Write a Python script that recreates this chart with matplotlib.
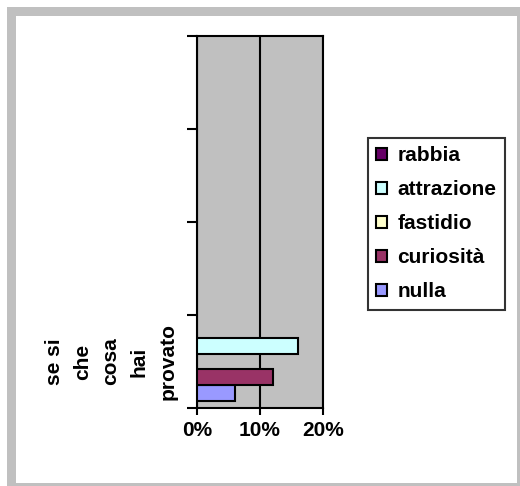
import matplotlib.pyplot as plt
from matplotlib.patches import Rectangle, Patch
import numpy as np

plt.rcParams['font.family'] = ['Liberation Sans', 'DejaVu Sans']

# categories (bottom to top), only the first one has a label
categories = ["se si\nche\ncosa\nhai\nprovato", "", "", ""]

# series, in drawing order (bottom bar first)
series_names = ["nulla", "curiosità", "fastidio", "attrazione", "rabbia"]
series_values = [
    [6, 0, 0, 0],    # nulla
    [12, 0, 0, 0],   # curiosità
    [0, 0, 0, 0],    # fastidio
    [16, 0, 0, 0],   # attrazione
    [0, 0, 0, 0],    # rabbia
]
series_colors = ["#9999FF", "#993366", "#FFFFCC", "#CCFFFF", "#660066"]

x_ticks = [0, 10, 20]
x_tick_labels = ["0%", "10%", "20%"]

W, H = 520, 486
FS = 15
fig = plt.figure(figsize=(W / 100, H / 100), dpi=100)
fig.patch.set_facecolor("white")

# grey frame around the chart
fig.patches.append(Rectangle((7 / W, 0), 1, 1 - 7 / H, transform=fig.transFigure,
                             facecolor="#C0C0C0", edgecolor="none", zorder=-10))
fig.patches.append(Rectangle((16 / W, 3 / H), (517 - 16) / W, (483 - 16) / H,
                             transform=fig.transFigure, facecolor="white",
                             edgecolor="none", zorder=-9))

ax = fig.add_axes([197 / W, 1 - 408 / H, 126 / W, 372 / H])
ax.set_facecolor("#C0C0C0")

bar_h = 0.17
y = np.arange(len(categories))
n = len(series_names)
for i in range(n):
    offs = (i - (n - 1) / 2) * bar_h
    vals = series_values[i]
    bars = ax.barh(y + offs, vals, height=bar_h, color=series_colors[i],
                   edgecolor="black", linewidth=1.5, zorder=3)
    for b, v in zip(bars, vals):
        if v == 0:
            b.set_visible(False)

ax.set_xlim(0, 20)
ax.set_ylim(-0.5, len(categories) - 0.5)

ax.set_xticks(x_ticks)
ax.set_xticklabels(x_tick_labels, fontsize=FS, fontweight="bold")
ax.tick_params(axis="x", length=5, width=1.5, pad=4)
ax.xaxis.grid(True, color="black", linewidth=1.5, zorder=1)
ax.set_axisbelow(True)

# category labels: each line rotated and centred on its category
ax.set_yticks(y)
ax.set_yticklabels([""] * len(categories))
ax.tick_params(axis="y", which="major", length=0)
ax.set_yticks(np.arange(-0.5, len(categories)), minor=True)
ax.tick_params(axis="y", which="minor", length=7, width=1.5)
line_gap = 28.5
for yi, cat in zip(y, categories):
    if not cat:
        continue
    lines = cat.split("\n")
    for k, ln in enumerate(lines):
        dx = -29 - (len(lines) - 1 - k) * line_gap
        ax.annotate(ln, xy=(0, yi), xycoords=("axes fraction", "data"),
                    xytext=(dx, 0), textcoords="offset pixels",
                    rotation=90, ha="center", va="center",
                    fontsize=FS, fontweight="bold")

for s in ax.spines.values():
    s.set_color("black")
    s.set_linewidth(1.5)

handles = [Patch(facecolor=series_colors[i], edgecolor="black", linewidth=1.5)
           for i in reversed(range(n))]
leg = fig.legend(handles, [series_names[i] for i in reversed(range(n))],
                 loc="upper left", bbox_to_anchor=(368 / W, 1 - 138 / H),
                 prop={"size": FS, "weight": "bold"},
                 frameon=True, fancybox=False, shadow=False,
                 borderaxespad=0, borderpad=0.4, labelspacing=0.72,
                 handlelength=0.5, handleheight=0.5, handletextpad=0.5)
leg.get_frame().set_edgecolor("black")
leg.get_frame().set_linewidth(1.5)

fig.savefig("out.png", dpi=100)
